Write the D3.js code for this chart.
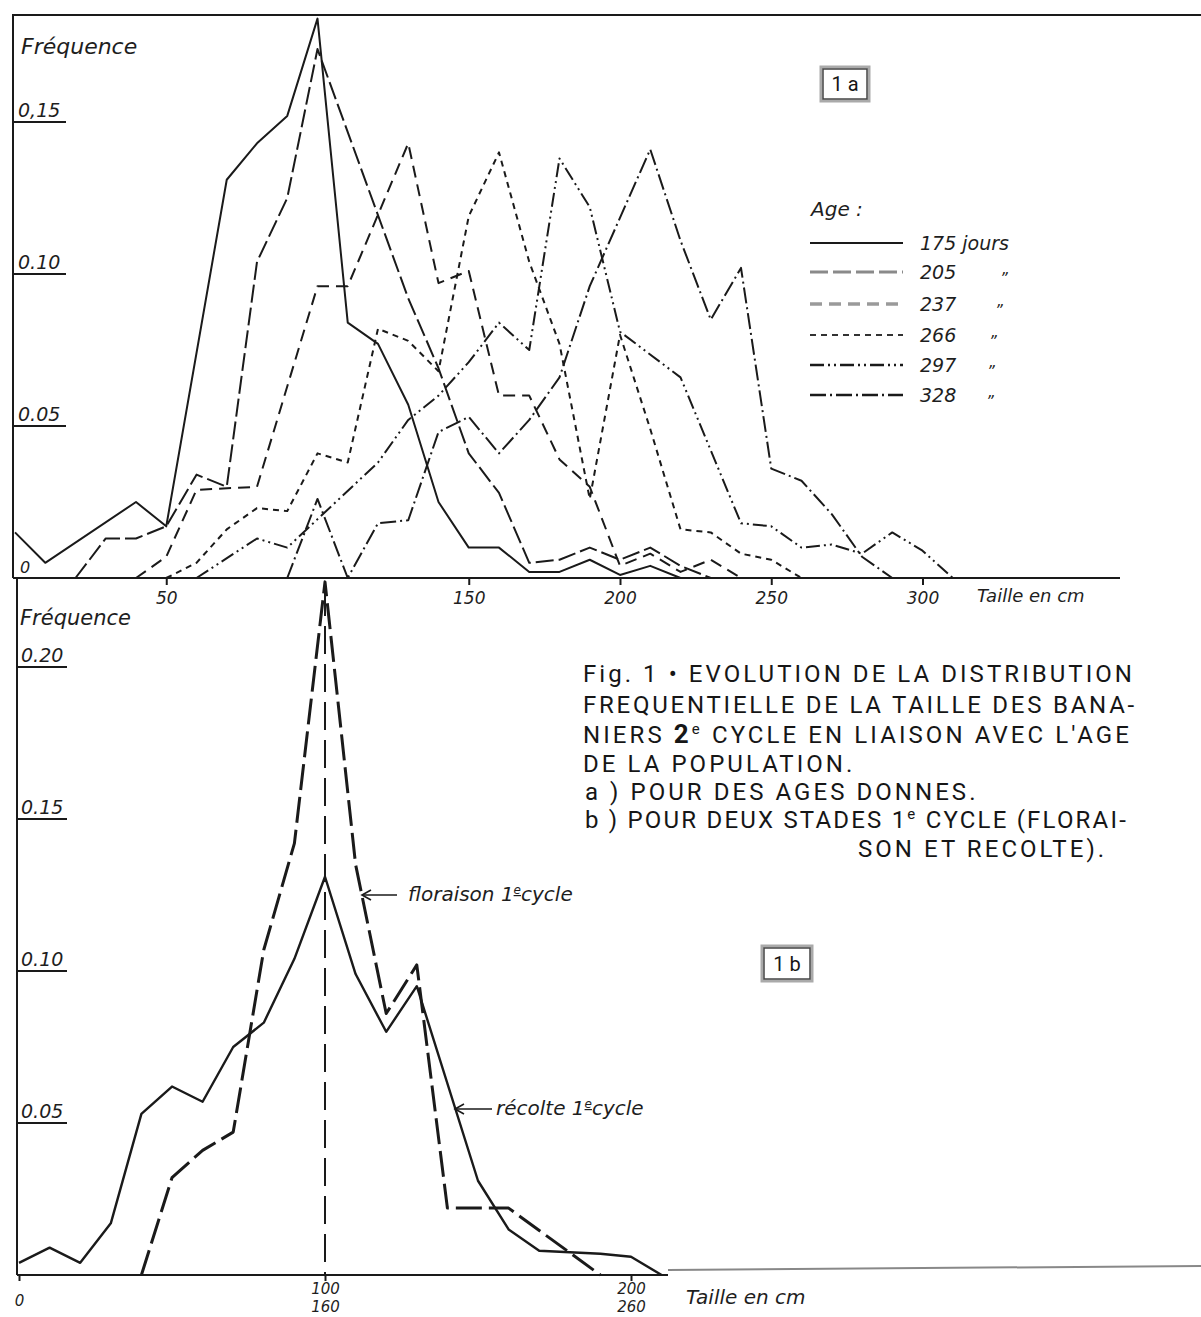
<!DOCTYPE html>
<html><head><meta charset="utf-8">
<script src="https://cdn.jsdelivr.net/npm/d3@7/dist/d3.min.js"></script>
<style>
body{margin:0;background:#fff;}
svg{display:block;}
.hand{font-family:"DejaVu Sans",sans-serif;font-style:italic;fill:#1e1e1e;}
.cap{font-family:Roboto,"Noto Sans",sans-serif;fill:#161616;}
</style></head><body>
<svg id="c" width="1201" height="1317"></svg>
<script>
// ---------- DATA (size in cm, frequency) ----------
const ageNames = ["175 jours","205","237","266","297","328"];
const age175 = [[0,.015],[10,.005],[40,.025],[50,.017],[70,.131],[80,.143],[90,.152],[100,.184],[110,.084],[120,.077],[130,.057],[140,.025],[150,.010],[160,.010],[170,.002],[180,.002],[190,.006],[200,.001],[210,.004],[220,0]];
const age205 = [[20,0],[30,.013],[40,.013],[50,.017],[60,.034],[70,.030],[80,.104],[90,.125],[100,.174],[130,.092],[140,.069],[150,.041],[160,.028],[170,.005],[180,.006],[190,.010],[200,.006],[210,.010],[220,.004],[230,0]];
const age237 = [[40,0],[50,.007],[60,.029],[80,.030],[100,.096],[110,.096],[130,.143],[140,.097],[150,.101],[160,.060],[170,.060],[180,.039],[190,.030],[200,.004],[210,.008],[220,.002],[230,.006],[240,0]];
const age266 = [[50,0],[60,.005],[70,.016],[80,.023],[90,.022],[100,.041],[110,.038],[120,.082],[130,.078],[140,.068],[150,.119],[160,.140],[170,.104],[180,.077],[190,.026],[200,.080],[210,.049],[220,.016],[230,.015],[240,.008],[250,.006],[260,0]];
const age297 = [[60,0],[80,.013],[90,.010],[120,.038],[130,.052],[140,.060],[150,.071],[160,.084],[170,.075],[180,.138],[190,.122],[200,.081],[220,.066],[240,.018],[250,.017],[260,.010],[270,.011],[280,.008],[290,.015],[300,.009],[310,0]];
const age328 = [[90,0],[100,.026],[110,0],[120,.018],[130,.019],[140,.048],[150,.053],[160,.041],[170,.052],[180,.066],[190,.096],[210,.141],[220,.111],[230,.085],[240,.102],[250,.036],[260,.032],[270,.021],[280,.007],[290,0]];
const floraison = [[40,0],[50,.032],[60,.041],[70,.047],[80,.107],[90,.142],[100,.228],[110,.135],[120,.086],[130,.102],[140,.022],[160,.022],[190,0]];
const recolte = [[0,.004],[10,.009],[20,.004],[30,.017],[40,.053],[50,.062],[60,.057],[70,.075],[80,.083],[90,.104],[100,.131],[110,.099],[120,.080],[130,.095],[150,.031],[160,.015],[170,.008],[190,.007],[200,.006],[210,0]];

const topXTicks = [50,150,200,250,300];
const topYTicks = [0,0.05,0.10,0.15];
const topYLabels = ["0","0.05","0.10","0,15"];
const botXTicks = [0,100,200];
const botXLabels = ["0","100","200"];
const botXLabels2 = ["","160","260"];
const botYTicks = [0.05,0.10,0.15,0.20];
const botYLabels = ["0.05","0.10","0.15","0.20"];
const captionLines = [
  ["Fig. 1 • EVOLUTION DE LA DISTRIBUTION"],
  ["FREQUENTIELLE DE LA TAILLE DES BANA-"],
  ["NIERS ", {b:"2"}, {s:"e"}, " CYCLE EN LIAISON AVEC L'AGE"],
  ["DE LA POPULATION."],
  ["a ) POUR DES AGES DONNES."],
  ["b ) POUR DEUX STADES 1", {s:"e"}, " CYCLE (FLORAI-"],
  ["SON ET RECOLTE)."]
];

// ---------- STYLES ----------
const ageDash = ["none","18,5","12,7","6,5","14,4,2,4,2,4","16,4,2,4"];
const ageSeries = [age175,age205,age237,age266,age297,age328];

const svg = d3.select("#c");
const ink = "#1a1a1a";

// scales
const xA = d3.scaleLinear().domain([0,300]).range([15,922.5]);
const yA = d3.scaleLinear().domain([0,0.15]).range([578,122]);
const xB = d3.scaleLinear().domain([0,200]).range([19,631]);
const yB = d3.scaleLinear().domain([0,0.20]).range([1275,667]);

// ---------- FRAME / AXES ----------
svg.append("line").attr("x1",12).attr("x2",1201).attr("y1",15).attr("y2",15).attr("stroke",ink).attr("stroke-width",2);
svg.append("line").attr("x1",13).attr("x2",13).attr("y1",15).attr("y2",yA(0)).attr("stroke",ink).attr("stroke-width",2);
svg.append("line").attr("x1",17).attr("x2",17).attr("y1",yA(0)).attr("y2",yB(0)).attr("stroke",ink).attr("stroke-width",2);

// top x axis
const axA = svg.append("g").attr("transform",`translate(0,${yA(0)})`)
  .call(d3.axisBottom(xA).tickValues(topXTicks).tickSize(7).tickFormat(d3.format("d")));
axA.select(".domain").remove();
axA.selectAll("line").attr("stroke",ink).attr("stroke-width",2);
axA.selectAll("text").attr("class","hand").attr("font-size",17).attr("fill",ink).attr("dy","0.95em");
svg.append("line").attr("x1",13).attr("x2",1120).attr("y1",yA(0)).attr("y2",yA(0)).attr("stroke",ink).attr("stroke-width",2);
svg.append("text").attr("class","hand").attr("x",977).attr("y",602).attr("font-size",18).text("Taille en cm");

// top y labels
topYTicks.forEach((t,i)=>{
  const y = yA(t);
  if(t===0){
    svg.append("text").attr("class","hand").attr("x",20).attr("y",y-5).attr("font-size",16).text(topYLabels[i]);
  } else {
    svg.append("text").attr("class","hand").attr("x",18).attr("y",y-5).attr("font-size",19).text(topYLabels[i]);
    svg.append("line").attr("x1",14).attr("x2",66).attr("y1",y).attr("y2",y).attr("stroke",ink).attr("stroke-width",1.8);
  }
});
svg.append("text").attr("class","hand").attr("x",21).attr("y",54).attr("font-size",22).text("Fréquence");

// box 1a
svg.append("rect").attr("x",821).attr("y",67).attr("width",48).attr("height",34).attr("fill","none").attr("stroke","#aaa").attr("stroke-width",3);
svg.append("rect").attr("x",823).attr("y",69).attr("width",44).attr("height",30).attr("fill","none").attr("stroke","#444").attr("stroke-width",1.5);
svg.append("text").attr("class","cap").attr("x",845).attr("y",91).attr("text-anchor","middle").attr("font-size",20).text("1 a");

// top lines
const lineA = d3.line().x(d=>xA(d[0])).y(d=>yA(d[1]));
ageSeries.forEach((s,i)=>{
  svg.append("path").attr("d",lineA(s)).attr("fill","none").attr("stroke",ink)
    .attr("stroke-width",2).attr("stroke-dasharray",ageDash[i]).attr("stroke-linejoin","round");
});

// legend
svg.append("text").attr("class","hand").attr("x",811).attr("y",216).attr("font-size",20).text("Age :");
const legY = [243,272,304,335,365,395];
const legCol = [ink,"#8a8a8a","#9a9a9a","#333",ink,ink];
const legW = [2.2,3,3.5,1.8,2.4,2.4];
const dittoX = [0,1000,995,989,987,986];
ageNames.forEach((n,i)=>{
  svg.append("line").attr("x1",810).attr("x2",903).attr("y1",legY[i]).attr("y2",legY[i])
    .attr("stroke",legCol[i]).attr("stroke-width",legW[i]).attr("stroke-dasharray",ageDash[i]);
  svg.append("text").attr("class","hand").attr("x",920).attr("y",legY[i]+7).attr("font-size",19).text(n);
  if(i>0) svg.append("text").attr("class","hand").attr("x",dittoX[i]).attr("y",legY[i]+12)
    .attr("font-size",15).attr("fill",i===1?"#aaa":"#333").text("\u201D");
});

// ---------- BOTTOM PANEL ----------
svg.append("line").attr("x1",17).attr("x2",668).attr("y1",yB(0)).attr("y2",yB(0)).attr("stroke",ink).attr("stroke-width",2);
svg.append("line").attr("x1",668).attr("x2",1201).attr("y1",1270).attr("y2",1266).attr("stroke","#888").attr("stroke-width",2);
const axB = svg.append("g").attr("transform",`translate(0,${yB(0)})`)
  .call(d3.axisBottom(xB).tickValues(botXTicks).tickSize(6).tickFormat((d,i)=>botXLabels[i]));
axB.select(".domain").remove();
axB.selectAll("line").attr("stroke",ink).attr("stroke-width",2);
axB.selectAll("text").attr("class","hand").attr("font-size",15).attr("fill",ink)
  .attr("y",(d,i)=>i===0?31:19).attr("dy",0);
axB.selectAll("g.tick").each(function(d,i){
  if(botXLabels2[i]) d3.select(this).append("text").attr("class","hand").attr("font-size",15)
    .attr("text-anchor","middle").attr("y",37).attr("fill",ink).text(botXLabels2[i]);
});
svg.append("text").attr("class","hand").attr("x",686).attr("y",1304).attr("font-size",20).text("Taille en cm");

botYTicks.forEach((t,i)=>{
  const y = yB(t);
  svg.append("text").attr("class","hand").attr("x",21).attr("y",y-5).attr("font-size",19).text(botYLabels[i]);
  svg.append("line").attr("x1",17).attr("x2",67).attr("y1",y).attr("y2",y).attr("stroke",ink).attr("stroke-width",1.8);
});
svg.append("text").attr("class","hand").attr("x",20).attr("y",625).attr("font-size",21).text("Fréquence");

// vertical dashed reference at 100
svg.append("line").attr("x1",xB(100)).attr("x2",xB(100)).attr("y1",yB(0.226)).attr("y2",yB(0))
  .attr("stroke",ink).attr("stroke-width",2).attr("stroke-dasharray","28,10");

const lineB = d3.line().x(d=>xB(d[0])).y(d=>yB(d[1]));
svg.append("path").attr("d",lineB(floraison)).attr("fill","none").attr("stroke",ink)
  .attr("stroke-width",3).attr("stroke-dasharray","26,7").attr("stroke-linejoin","round");
svg.append("path").attr("d",lineB(recolte)).attr("fill","none").attr("stroke",ink)
  .attr("stroke-width",2.4).attr("stroke-linejoin","round");

// annotations
function arrow(x1,x2,y){
  svg.append("line").attr("x1",x1).attr("x2",x2).attr("y1",y).attr("y2",y).attr("stroke",ink).attr("stroke-width",1.6);
  svg.append("path").attr("d",`M${x2+9},${y-5}L${x2},${y}L${x2+9},${y+5}`).attr("fill","none").attr("stroke",ink).attr("stroke-width",1.6);
}
function ecycle(x,y,word,size){
  const t = svg.append("text").attr("class","hand").attr("x",x).attr("y",y).attr("font-size",size);
  t.append("tspan").text(word+" 1");
  t.append("tspan").attr("font-size",size*0.6).attr("dy",-7).attr("text-decoration","underline").text("e");
  t.append("tspan").attr("dy",7).text("cycle");
}
arrow(397,362,895);
ecycle(408,901,"floraison",20);
arrow(492,455,1109);
ecycle(496,1115,"récolte",20);

svg.append("rect").attr("x",762).attr("y",946).attr("width",50).attr("height",35).attr("fill","none").attr("stroke","#aaa").attr("stroke-width",3);
svg.append("rect").attr("x",764).attr("y",948).attr("width",46).attr("height",31).attr("fill","none").attr("stroke","#444").attr("stroke-width",1.5);
svg.append("text").attr("class","cap").attr("x",787).attr("y",971).attr("text-anchor","middle").attr("font-size",20).text("1 b");

// caption
const capX = [583,583,583,583,585,585,858];
const capW = [552,554,549,0,0,543,0];   // fitted widths for full-width lines
const capBase = [682,713,743,772,800,828,857];
const capSize = 24;
function buildLine(parts,i,ls){
  const t = svg.append("text").attr("class","cap").attr("x",capX[i]).attr("y",capBase[i])
    .attr("font-size",capSize).attr("letter-spacing",ls);
  let up = false;
  parts.forEach(p=>{
    let ts;
    if(typeof p==="string"){ ts = t.append("tspan").text(p); if(up){ts.attr("dy",9); up=false;} }
    else if(p.b){ ts = t.append("tspan").attr("font-weight","bold").attr("font-size",capSize+2).text(p.b); }
    else if(p.s){ ts = t.append("tspan").attr("font-size",15).attr("dy",-9).text(p.s); up=true; }
  });
  return t;
}
// measure line 1 and compute uniform letter spacing to fit reference width
const probe = buildLine(captionLines[0],0,0);
const natural = probe.node().getComputedTextLength();
const nChars = captionLines[0][0].length;
const ls = Math.max(0,(552 - natural)/(nChars));
probe.remove();
captionLines.forEach((parts,i)=>{
  const t = buildLine(parts,i,ls);
  if(capW[i]){
    const probe2 = buildLine(parts,i,0);
    const nat = probe2.node().getComputedTextLength();
    probe2.remove();
    const chars = parts.map(p=>typeof p==="string"?p:(p.b||p.s)).join("").length;
    t.attr("letter-spacing",Math.max(0,(capW[i]-nat)/chars));
  }
});
</script>
</body></html>
